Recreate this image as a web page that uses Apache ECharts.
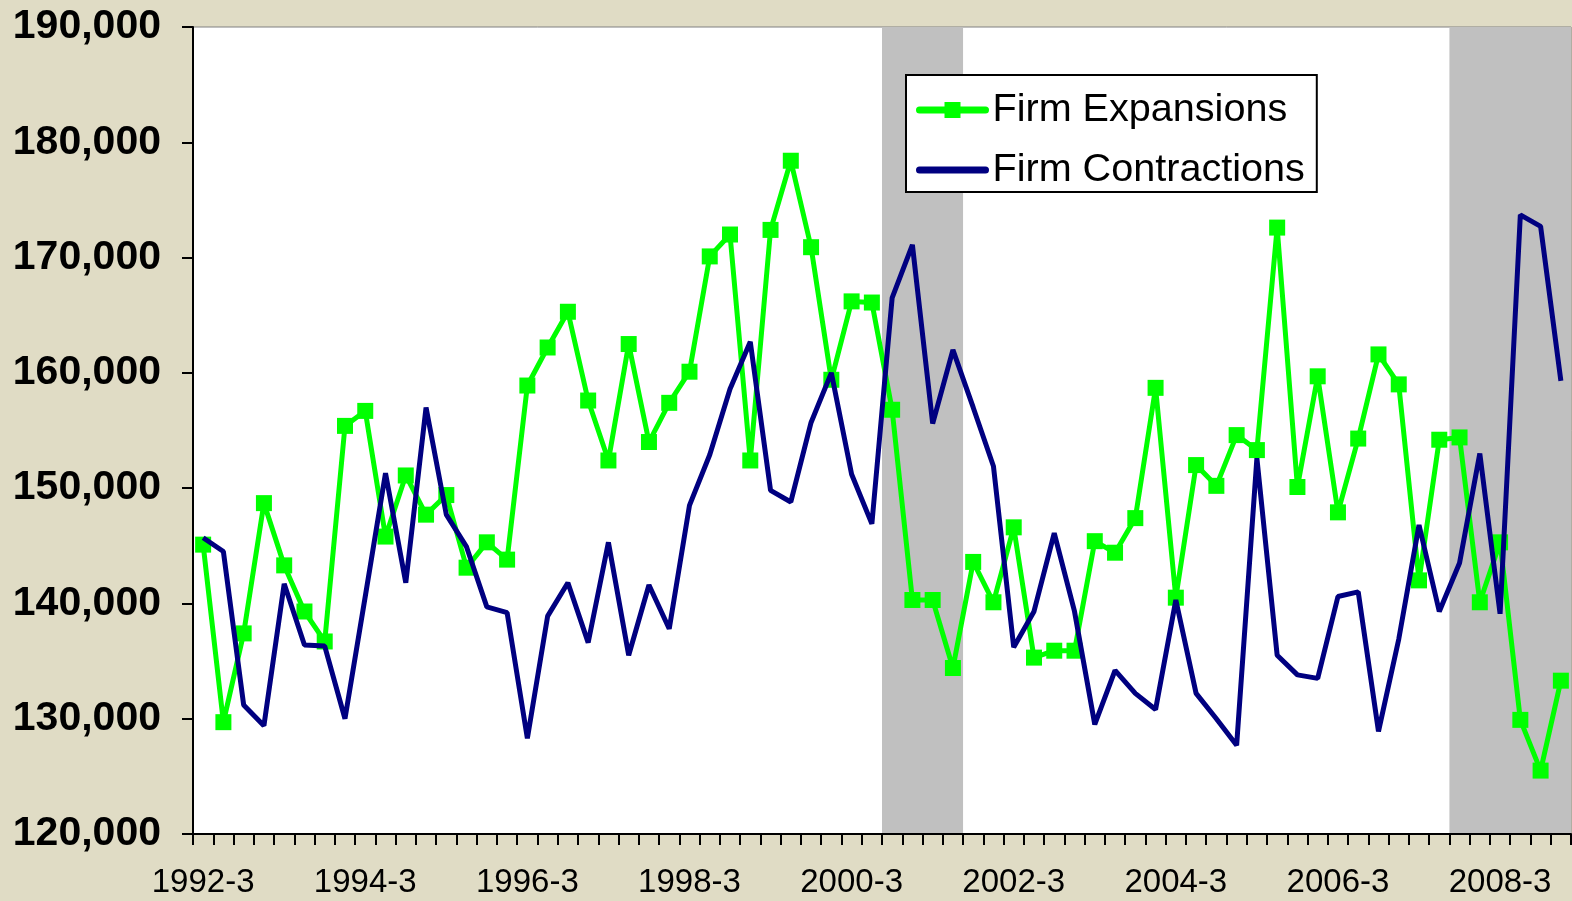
<!DOCTYPE html>
<html>
<head>
<meta charset="utf-8">
<script src="https://cdn.jsdelivr.net/npm/echarts@6/dist/echarts.min.js"></script>
<style>
    html, body { margin: 0; padding: 0; background: #e0dcc5; }
    #chart { width: 1572px; height: 901px; }
</style>
</head>
<body>
<div id="chart"></div>
<script>
// quarters 1992-3 .. 2009-2
const quarters = (function () {
    let res = [];
    let y = 1992, q = 3;
    while (res.length < 68) {
        res.push(y + '-' + q);
        q++;
        if (q > 4) { q = 1; y++; }
    }
    return res;
})();

// thousands of firms
const expansions = [
    145.1, 129.7, 137.4, 148.7, 143.3, 139.3, 136.7, 155.4, 156.7, 145.8,
    151.1, 147.7, 149.4, 143.1, 145.3, 143.8, 158.9, 162.2, 165.3, 157.6,
    152.4, 162.5, 154.0, 157.4, 160.1, 170.1, 172.0, 152.4, 172.4, 178.4,
    170.9, 159.4, 166.2, 166.1, 156.8, 140.3, 140.3, 134.4, 143.6, 140.1,
    146.6, 135.3, 135.9, 135.9, 145.4, 144.4, 147.4, 158.7, 140.5, 152.0,
    150.2, 154.6, 153.3, 172.6, 150.1, 159.7, 147.9, 154.3, 161.6, 159.0,
    142.0, 154.2, 154.4, 140.1, 145.3, 129.9, 125.5, 133.3
];
const contractions = [
    145.7, 144.5, 131.2, 129.4, 141.7, 136.4, 136.3, 130.0, 140.6, 151.3,
    141.8, 157.0, 147.7, 144.9, 139.7, 139.2, 128.3, 138.9, 141.8, 136.6,
    145.3, 135.5, 141.6, 137.8, 148.5, 152.9, 158.6, 162.7, 149.8, 148.8,
    155.7, 160.0, 151.2, 146.9, 166.5, 171.1, 155.6, 162.0, 157.0, 151.9,
    136.2, 139.3, 146.1, 139.3, 129.5, 134.2, 132.2, 130.8, 140.3, 132.2,
    130.0, 127.7, 152.6, 135.5, 133.8, 133.5, 140.6, 141.0, 128.9, 136.9,
    146.8, 139.3, 143.5, 153.0, 139.1, 173.7, 172.7, 159.3
];

// recession periods (first and last shaded quarter)
const recessions = [['2001-1', '2001-4'], ['2008-1', '2009-2']];

const yMin = 120000, yMax = 190000, yStep = 10000;

var chartDom = document.getElementById('chart');
var myChart = echarts.init(chartDom);
var option;

// shaded block covering whole quarter bands
const renderRecession = function (params, api) {
    const bandW = api.size([1, 0])[0];
    const p0 = api.coord([api.value(0), yMax]);
    const p1 = api.coord([api.value(1), yMin]);
    return {
        type: 'rect',
        shape: {
            x: p0[0] - bandW / 2,
            y: p0[1],
            width: p1[0] - p0[0] + bandW,
            height: p1[1] - p0[1]
        },
        style: { fill: '#c0c0c0' }
    };
};

option = {
    animation: false,
    backgroundColor: '#e0dcc5',
    grid: {
        left: 193,
        right: 1,
        top: 27,
        bottom: 67,
        show: true,
        backgroundColor: '#ffffff',
        borderColor: '#808080',
        borderWidth: 1
    },
    legend: {
        data: [
            { name: 'Firm Expansions' },
            { name: 'Firm Contractions', itemStyle: { opacity: 0 } }
        ],
        orient: 'vertical',
        left: 906,
        top: 75,
        selectedMode: false,
        backgroundColor: '#ffffff',
        borderColor: '#000000',
        borderWidth: 2,
        padding: [15, 12, 2, 10],
        itemWidth: 66,
        itemHeight: 20,
        itemGap: 20,
        lineStyle: { width: 7, cap: 'round' },
        textStyle: {
            fontFamily: 'Liberation Sans, Arial, sans-serif',
            fontSize: 39.6,
            lineHeight: 40,
            padding: [0, 0, 0, 2],
            color: '#000'
        }
    },
    xAxis: {
        type: 'category',
        boundaryGap: true,
        data: quarters,
        z: 5,
        axisLine: { lineStyle: { color: '#000', width: 2 } },
        axisTick: { show: true, interval: 0, length: 11, lineStyle: { color: '#000', width: 2 } },
        axisLabel: {
            interval: 7,
            margin: 32,
            color: '#000',
            fontSize: 33,
            fontFamily: 'Liberation Sans, Arial, sans-serif'
        },
        splitLine: { show: false }
    },
    yAxis: {
        type: 'value',
        min: yMin,
        max: yMax,
        interval: yStep,
        z: 5,
        axisLine: { show: true, lineStyle: { color: '#000', width: 2 } },
        axisTick: { show: true, length: 11, lineStyle: { color: '#000', width: 2 } },
        axisLabel: {
            margin: 32,
            color: '#000',
            fontSize: 41,
            fontWeight: 'bold',
            fontFamily: 'Liberation Sans, Arial, sans-serif',
            formatter: function (v) { return v.toLocaleString('en-US'); }
        },
        splitLine: { show: false }
    },
    series: [
        {
            name: 'recession',
            type: 'custom',
            silent: true,
            z: 1,
            renderItem: renderRecession,
            encode: { x: [0, 1] },
            data: recessions
        },
        {
            name: 'Firm Expansions',
            type: 'line',
            data: expansions.map(v => v * 1000),
            symbol: 'rect',
            symbolSize: 16,
            showAllSymbol: true,
            z: 3,
            lineStyle: { color: '#00ff00', width: 5 },
            itemStyle: { color: '#00ff00' }
        },
        {
            name: 'Firm Contractions',
            type: 'line',
            data: contractions.map(v => v * 1000),
            showSymbol: false,
            symbol: 'none',
            z: 4,
            lineStyle: { color: '#000080', width: 5 },
            itemStyle: { color: '#000080' }
        }
    ]
};

option && myChart.setOption(option);
</script>
</body>
</html>
